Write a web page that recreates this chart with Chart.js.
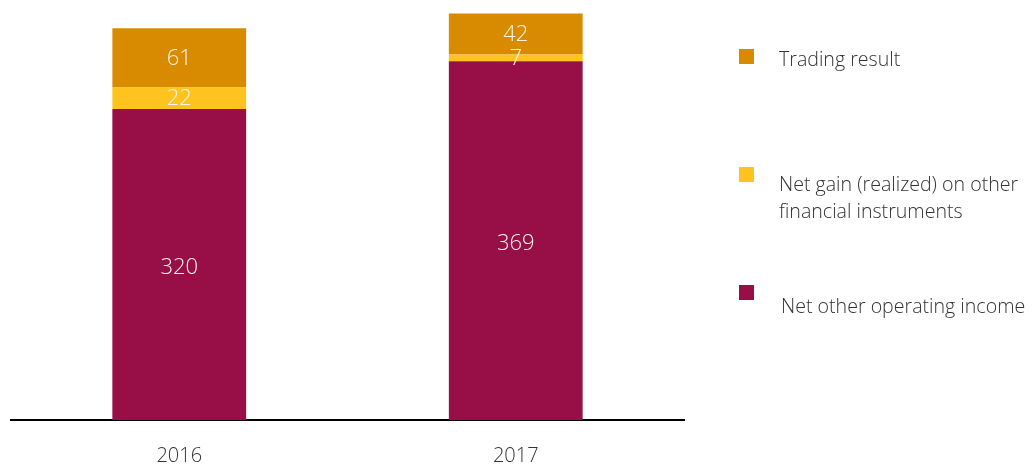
<!DOCTYPE html>
<html>
<head>
<meta charset="utf-8">
<script src="https://cdn.jsdelivr.net/npm/chart.js@4/dist/chart.umd.min.js"></script>
<style>
  html, body { margin: 0; padding: 0; background: #fff; }
  #wrap { position: relative; width: 1032px; height: 467px; }
  #chart { position: absolute; left: 0; top: 0; }
  .legend-item { position: absolute; left: 739px; font-family: 'Open Sans', sans-serif; font-weight: 300; font-size: 19.6px; color: #333; line-height: 27px; }
  .legend-item .box { position: absolute; left: 0; width: 15px; height: 15px; }
  .legend-item .txt { position: absolute; left: 40px; white-space: nowrap; }
</style>
</head>
<body>
<div id="wrap">
  <canvas id="chart" width="1032" height="467"></canvas>
</div>
<script>
const years = ['2016', '2017'];
const otherIncome = [320, 369];
const netGain = [22, 7];
const tradingResult = [61, 42];
const seriesNames = ['Net other operating income', 'Net gain (realized) on other financial instruments', 'Trading result'];
const seriesColors = ['#980f48', '#ffc31f', '#d98b00'];

// legend rows, top to bottom: trading, net gain, other income
const legendRows = [
  { idx: 2, boxTop: 49, textTop: 45, lines: ['Trading result'] },
  { idx: 1, boxTop: 167, textTop: 170, lines: ['Net gain (realized) on other', 'financial instruments'] },
  { idx: 0, boxTop: 285, textTop: 292, lines: ['Net other operating income'], shift: 2 }
];
const wrap = document.getElementById('wrap');
legendRows.forEach(r => {
  const item = document.createElement('div');
  item.className = 'legend-item';
  item.style.top = '0px';
  const box = document.createElement('div');
  box.className = 'box';
  box.style.top = r.boxTop + 'px';
  box.style.background = seriesColors[r.idx];
  item.appendChild(box);
  const txt = document.createElement('div');
  txt.className = 'txt';
  txt.style.top = r.textTop + 'px';
  txt.style.left = (40 + (r.shift || 0)) + 'px';
  txt.innerHTML = r.lines.join('<br>');
  item.appendChild(txt);
  wrap.appendChild(item);
});

const barLabels = {
  id: 'barLabels',
  afterDatasetsDraw(chart) {
    const ctx = chart.ctx;
    ctx.save();
    ctx.font = '300 22px "Open Sans", sans-serif';
    ctx.fillStyle = '#fbf3ea';
    ctx.textAlign = 'center';
    ctx.textBaseline = 'middle';
    chart.data.datasets.forEach((ds, i) => {
      chart.getDatasetMeta(i).data.forEach((bar, j) => {
        const mid = (bar.y + bar.base) / 2;
        ctx.fillText(ds.data[j], bar.x, mid + (i === 0 ? 3 : 1));
      });
    });
    ctx.restore();
  }
};

new Chart(document.getElementById('chart'), {
  type: 'bar',
  data: {
    labels: years,
    datasets: [
      { label: seriesNames[0], data: otherIncome, backgroundColor: seriesColors[0] },
      { label: seriesNames[1], data: netGain, backgroundColor: seriesColors[1] },
      { label: seriesNames[2], data: tradingResult, backgroundColor: seriesColors[2] }
    ]
  },
  options: {
    responsive: false,
    animation: false,
    layout: { padding: { left: 11, right: 348, top: 0, bottom: 0 } },
    plugins: { legend: { display: false }, tooltip: { enabled: false } },
    datasets: { bar: { barPercentage: 0.8, categoryPercentage: 0.497, borderWidth: 0 } },
    scales: {
      x: {
        stacked: true,
        grid: { display: false, drawTicks: false },
        border: { display: true, color: '#000', width: 2 },
        ticks: { color: '#333', padding: 24, font: { family: 'Open Sans', size: 20, weight: '300' } },
        afterFit: (scale) => { scale.height = 47; }
      },
      y: {
        stacked: true,
        display: false,
        min: 0,
        max: 432
      }
    }
  },
  plugins: [barLabels]
});
</script>
</body>
</html>
